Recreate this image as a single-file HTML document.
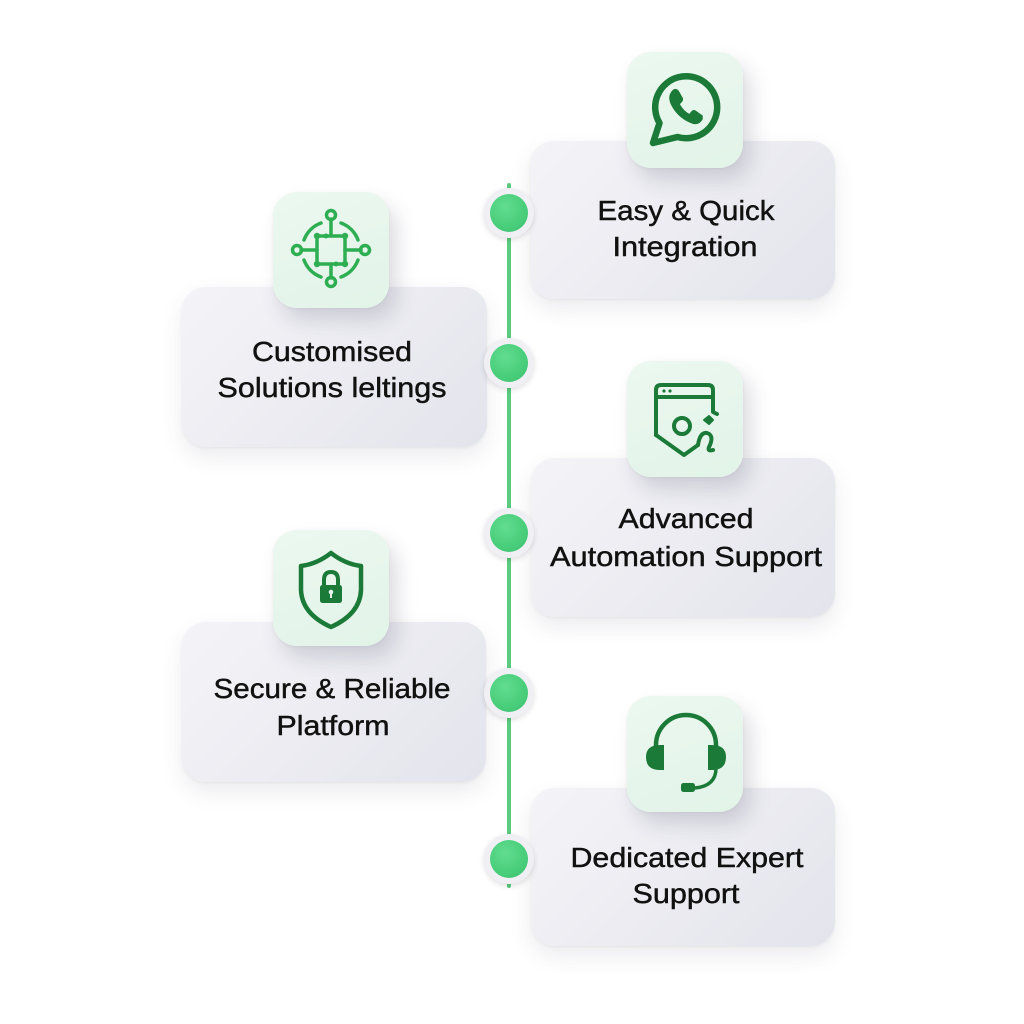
<!DOCTYPE html>
<html><head><meta charset="utf-8">
<style>
html,body{margin:0;padding:0;background:#fff;}
#wrap{position:relative;width:1024px;height:1024px;overflow:hidden;background:#fff;}
.card{position:absolute;border-radius:24px;background:linear-gradient(135deg,#F4F4F8 0%,#EBEBF1 55%,#E3E4EC 100%);box-shadow:0 10px 22px rgba(70,70,100,0.10),0 1px 3px rgba(0,0,0,0.05);}
.tile{position:absolute;width:116px;height:116px;border-radius:24px;background:linear-gradient(160deg,#ECF8F0 0%,#E2F3E8 100%);box-shadow:8px 12px 20px rgba(60,60,90,0.18),0 1px 3px rgba(0,0,0,0.05);}
.line{position:absolute;left:507px;top:183px;width:4px;height:705px;background:#5BCB80;border-radius:2px;}
.halo{position:absolute;width:50px;height:50px;border-radius:50%;background:#F0F0F4;box-shadow:0 2px 6px rgba(0,0,0,0.13);}
.dot{position:absolute;left:6px;top:6px;width:38px;height:38px;border-radius:50%;background:radial-gradient(circle at 40% 35%,#62DD90 0%,#48CD7A 60%,#3DBE6E 100%);}
svg{position:absolute;left:0;top:0;}
</style></head>
<body><div id="wrap">
<div class="line"></div>

<div class="card" style="left:530px;top:141px;width:305px;height:158px;"></div>
<div class="card" style="left:182px;top:287px;width:305px;height:160px;"></div>
<div class="card" style="left:531px;top:458px;width:304px;height:159px;"></div>
<div class="card" style="left:182px;top:622px;width:304px;height:160px;"></div>
<div class="card" style="left:531px;top:788px;width:304px;height:158px;"></div>

<div class="tile" style="left:627px;top:52px;"></div>
<div class="tile" style="left:273px;top:192px;"></div>
<div class="tile" style="left:627px;top:361px;"></div>
<div class="tile" style="left:273px;top:530px;"></div>
<div class="tile" style="left:627px;top:696px;"></div>

<div class="halo" style="left:484px;top:188px;"><div class="dot"></div></div>
<div class="halo" style="left:484px;top:338px;"><div class="dot"></div></div>
<div class="halo" style="left:484px;top:508px;"><div class="dot"></div></div>
<div class="halo" style="left:484px;top:668px;"><div class="dot"></div></div>
<div class="halo" style="left:484px;top:834px;"><div class="dot"></div></div>

<svg width="1024" height="1024" viewBox="0 0 1024 1024" xmlns="http://www.w3.org/2000/svg">
  <!-- WhatsApp -->
  <g transform="translate(686,107)" fill="none" stroke="#1B7A37" stroke-width="6.5" stroke-linejoin="round" stroke-linecap="round">
    <path d="M -26.5 16 A 31 31 0 1 1 -8.5 30 L -33 36 Z"/>
    <path fill="#1B7A37" stroke-width="1.5" d="M -12 -17 Q -18 -12 -15 -4 Q -9 9 4 15 Q 12 19 16 12 L 16 9 L 9 4 Q 7 3 5 6 L 4 8 Q -3 5 -7 -3 L -5 -5 Q -3 -7 -4 -9 L -8 -16 Q -10 -18 -12 -17 Z"/>
  </g>
  <!-- Circuit -->
  <g transform="translate(331,250)" fill="none" stroke="#2EAE52" stroke-width="3.5" stroke-linecap="round">
    <rect x="-14" y="-14" width="28" height="28" rx="2"/>
    <line x1="0" y1="-14" x2="0" y2="-31"/>
    <line x1="0" y1="14" x2="0" y2="28"/>
    <line x1="-14" y1="0" x2="-30" y2="0"/>
    <line x1="14" y1="0" x2="30" y2="0"/>
    <circle cx="0" cy="-35" r="4.5"/>
    <circle cx="0" cy="32" r="4.5"/>
    <circle cx="-34" cy="0" r="4.5"/>
    <circle cx="34" cy="0" r="4.5"/>
    <path d="M -27 -10 A 29 29 0 0 1 -10 -27"/>
    <path d="M 10 -27 A 29 29 0 0 1 27 -10"/>
    <path d="M 27 10 A 29 29 0 0 1 10 27"/>
    <path d="M -10 27 A 29 29 0 0 1 -27 10"/>
    <g fill="#2EAE52" stroke="none">
      <circle cx="-14" cy="-14" r="3.2"/><circle cx="14" cy="-14" r="3.2"/>
      <circle cx="-14" cy="14" r="3.2"/><circle cx="14" cy="14" r="3.2"/>
      <circle cx="-5" cy="-14" r="2.5"/><circle cx="5" cy="14" r="2.5"/>
    </g>
  </g>
  <!-- Automation icon -->
  <g fill="none" stroke="#1B7A37" stroke-width="4" stroke-linecap="round" stroke-linejoin="round">
    <path d="M 656 435 L 656 390 Q 656 385 661 385 L 708 385 Q 713 385 713 390 L 713 412 L 717 414"/>
    <line x1="656" y1="397" x2="713" y2="397"/>
    <path d="M 656 435 L 684 455 L 698 445"/>
    <path d="M 698 445 Q 700 432 707 433 Q 714 435 710 445 Q 706 452 713 450"/>
    <circle cx="682" cy="426" r="8"/>
    <path d="M 704 420 L 709 416 L 713 420 L 709 424 Z" fill="#1B7A37" stroke-width="2"/>
    <circle cx="664" cy="391" r="1.6" fill="#1B7A37" stroke="none"/>
    <circle cx="670" cy="391" r="1.6" fill="#1B7A37" stroke="none"/>
  </g>
  <!-- Shield -->
  <g>
    <path d="M 331 553 Q 317 564 301 566 L 301 590 Q 302 614 331 627 Q 360 614 361 590 L 361 566 Q 345 564 331 553 Z" fill="none" stroke="#1B7A37" stroke-width="4.5" stroke-linejoin="round"/>
    <path d="M 324 587 L 324 580 Q 324 572 331 572 Q 338 572 338 580 L 338 587" fill="none" stroke="#1B7A37" stroke-width="4"/>
    <rect x="320" y="585" width="22" height="18" rx="2.5" fill="#1B7A37"/>
    <circle cx="331" cy="592" r="2.3" fill="#E6F5EC"/>
    <rect x="330" y="592" width="2" height="6" fill="#E6F5EC"/>
  </g>
  <!-- Headset -->
  <g fill="#1B7A37">
    <path d="M 656 752 L 656 745 A 30 30 0 0 1 716 745 L 716 752" fill="none" stroke="#1B7A37" stroke-width="4.5"/>
    <path d="M 660 745 Q 646 745 646 757 Q 646 770 660 770 L 664 770 L 664 745 Z"/>
    <path d="M 712 745 Q 726 745 726 757 Q 726 770 712 770 L 708 770 L 708 745 Z"/>
    <path d="M 716 768 Q 716 786 695 788" fill="none" stroke="#1B7A37" stroke-width="3.5"/>
    <rect x="681" y="783" width="14" height="9" rx="2.5"/>
  </g>

  <g font-family="'Liberation Sans', Arial, sans-serif" font-size="28" fill="#111" stroke="#111" stroke-width="0.45" text-anchor="middle">
    <text x="686" y="220" textLength="177" lengthAdjust="spacingAndGlyphs">Easy &amp; Quick</text>
    <text x="685" y="256" textLength="145" lengthAdjust="spacingAndGlyphs">Integration</text>
    <text x="332" y="361" textLength="160" lengthAdjust="spacingAndGlyphs">Customised</text>
    <text x="332" y="397" textLength="229" lengthAdjust="spacingAndGlyphs">Solutions leltings</text>
    <text x="686" y="528" textLength="135" lengthAdjust="spacingAndGlyphs">Advanced</text>
    <text x="686" y="566" textLength="272" lengthAdjust="spacingAndGlyphs">Automation Support</text>
    <text x="332" y="698" textLength="237" lengthAdjust="spacingAndGlyphs">Secure &amp; Reliable</text>
    <text x="333" y="735" textLength="113" lengthAdjust="spacingAndGlyphs">Platform</text>
    <text x="687" y="867" textLength="233" lengthAdjust="spacingAndGlyphs">Dedicated Expert</text>
    <text x="686" y="903" textLength="107" lengthAdjust="spacingAndGlyphs">Support</text>
  </g>
</svg>
</div></body></html>
